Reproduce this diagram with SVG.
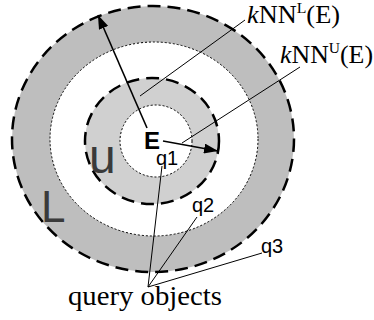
<svg xmlns="http://www.w3.org/2000/svg" width="374" height="320" viewBox="0 0 374 320">
<defs>
<style>
.dash{stroke:#000;stroke-width:2.5;stroke-dasharray:13 7}
.dot{stroke:#000;stroke-width:1;stroke-dasharray:2 2}
.ln{stroke:#000;stroke-width:1;fill:none}
.arr{stroke:#000;stroke-width:1.6;fill:none;marker-end:url(#ah)}
.sans{font-family:"Liberation Sans",Arial,sans-serif}
.serif{font-family:"Liberation Serif","Times New Roman",serif}
.big{fill:#3a3a3a}
</style>
<marker id="ah" viewBox="0 0 14 10" refX="14" refY="5" markerWidth="14" markerHeight="10" markerUnits="userSpaceOnUse" orient="auto">
<path d="M0,0 L14,5 L0,10 Z" fill="#000"/>
</marker>
</defs>
<rect width="374" height="320" fill="#fff"/>
<g id="regionL">
<ellipse cx="153" cy="139" rx="141" ry="133" fill="#bebebe" class="dash"/>
<ellipse cx="154" cy="139" rx="104" ry="97" fill="#fff" class="dot"/>
</g>
<g id="regionU">
<ellipse cx="152" cy="141" rx="67" ry="63" fill="#d0d0d0" class="dash"/>
<ellipse cx="156" cy="141" rx="36" ry="36" fill="#fff" class="dot"/>
</g>
<g id="connectors">
<line class="arr" x1="147" y1="128" x2="98" y2="15"/>
<line class="arr" x1="163" y1="141" x2="218" y2="151"/>
<line class="ln" x1="140" y1="96" x2="245" y2="20"/>
<line class="ln" x1="182" y1="143" x2="300" y2="67"/>
<line class="ln" x1="162" y1="166" x2="148" y2="287"/>
<line class="ln" x1="197" y1="217" x2="148" y2="287"/>
<line class="ln" x1="262" y1="253" x2="148" y2="287"/>
</g>
<g id="labelE"><text class="sans" x="144" y="149" font-size="24" font-weight="bold">E</text></g>
<g id="labelU"><text class="sans big" x="89" y="173" font-size="48">u</text></g>
<g id="labelL"><text class="sans big" x="41" y="222" font-size="44">L</text></g>
<g id="q1"><text class="sans" x="156" y="165" font-size="20">q1</text></g>
<g id="q2"><text class="sans" x="192" y="212" font-size="20">q2</text></g>
<g id="q3"><text class="sans" x="261" y="253" font-size="20">q3</text></g>
<g id="kNNL"><text class="serif" x="247" y="23" font-size="25" textLength="93" lengthAdjust="spacingAndGlyphs"><tspan font-style="italic">k</tspan>NN<tspan font-size="15" dy="-10">L</tspan><tspan dy="10">(E)</tspan></text></g>
<g id="kNNU"><text class="serif" x="280" y="63" font-size="25" textLength="93" lengthAdjust="spacingAndGlyphs"><tspan font-style="italic">k</tspan>NN<tspan font-size="15" dy="-10">U</tspan><tspan dy="10">(E)</tspan></text></g>
<g id="query"><text class="serif" x="68" y="305" font-size="27" textLength="154" lengthAdjust="spacingAndGlyphs">query objects</text></g>
</svg>
